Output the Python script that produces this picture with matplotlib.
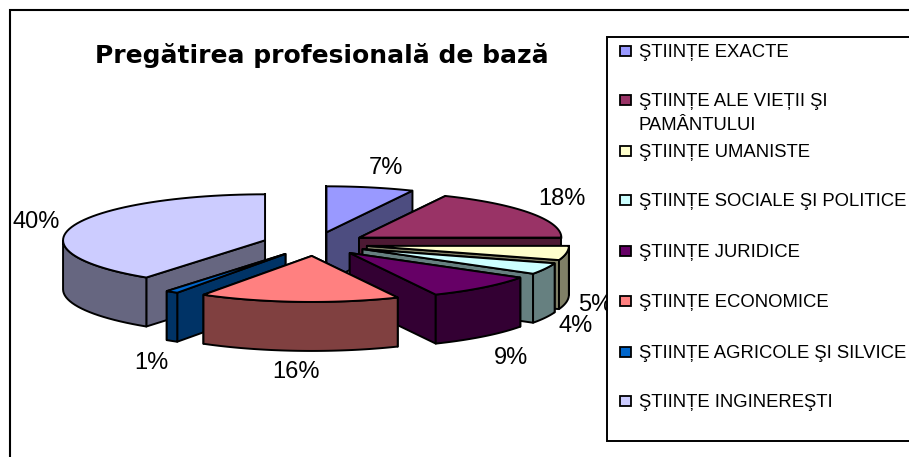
import numpy as np
import matplotlib
matplotlib.use("Agg")
import matplotlib.pyplot as plt
from matplotlib.patches import Rectangle

# chart data, clockwise from the top
categories = ["ŞTIINȚE EXACTE", "ŞTIINȚE ALE VIEȚII ŞI\nPAMÂNTULUI", "ŞTIINȚE UMANISTE",
              "ŞTIINȚE SOCIALE ŞI POLITICE", "ŞTIINȚE JURIDICE", "ŞTIINȚE ECONOMICE",
              "ŞTIINȚE AGRICOLE ŞI SILVICE", "ŞTIINȚE INGINEREŞTI"]
values = [7, 18, 5, 4, 9, 16, 1, 40]
title = "Pregătirea profesională de bază"

top_colors = ["#9999FF", "#993366", "#FFFFCC", "#CCFFFF", "#660066", "#FF8080", "#0066CC", "#CCCCFF"]
wall_colors = ["#4D4D80", "#4D1933", "#808066", "#668080", "#330033", "#804040", "#003366", "#666680"]

# layout in pixels
cx, cy = 315, 244
rx, ry = 202, 46
depth = 49
explode = 0.26
draw_order = [0, 7, 1, 2, 3, 4, 6, 5]
label_pos = [(386, 168), (562, 199), (595, 305), (576, 326), (511, 358), (296, 372), (151, 363), (36, 222)]
legend_y = [51, 100, 151, 200, 251, 301, 352, 401]

plt.rcParams['font.family'] = ['Liberation Sans', 'DejaVu Sans']
fig = plt.figure(figsize=(9.09, 4.57), dpi=100)
ax = fig.add_axes([0, 0, 1, 1])
ax.set_xlim(0, 909)
ax.set_ylim(457, 0)
ax.axis('off')

ax.add_patch(Rectangle((10, 10), 905, 455, fc='white', ec='black', lw=1.5, zorder=0))

pct = np.array(values) / sum(values)
ends = np.cumsum(pct) * 360
starts = ends - pct * 360


def ring(ox, oy, deg):
    t = np.radians(deg)
    return ox + rx * np.sin(t), oy - ry * np.cos(t)


def wall(xs, ys, color, z):
    xs = np.asarray(xs)
    ys = np.asarray(ys)
    px = np.concatenate([xs, xs[::-1]])
    py = np.concatenate([ys, ys[::-1] + depth])
    ax.fill(px, py, fc=color, ec='black', lw=1.4, joinstyle='round', zorder=z)


for rank, i in enumerate(draw_order):
    t1, t2 = starts[i], ends[i]
    mid = np.radians((t1 + t2) / 2)
    ox = cx + explode * rx * np.sin(mid)
    oy = cy - explode * ry * np.cos(mid)
    z = 2 + rank
    arc = np.linspace(t1, t2, 60)
    ax_x, ax_y = ring(ox, oy, arc)

    # back walls first, then the ones facing the viewer
    front = []
    for t in (t1, t2):
        rim_x, rim_y = ring(ox, oy, t)
        is_front = np.sin(np.radians(t)) < 0 if t == t1 else np.sin(np.radians(t)) > 0
        if is_front:
            front.append(([ox, rim_x], [oy, rim_y]))
        else:
            wall([ox, rim_x], [oy, rim_y], wall_colors[i], z)
    for xs, ys in front:
        wall(xs, ys, wall_colors[i], z)
    mask = np.cos(np.radians(arc)) < 0
    if mask.any():
        wall(ax_x[mask], ax_y[mask], wall_colors[i], z)
    ax.fill(np.r_[ox, ax_x], np.r_[oy, ax_y], fc=top_colors[i], ec='black', lw=1.4, zorder=z)

for val, (x, y) in zip(values, label_pos):
    ax.text(x, y, f"{val}%", fontsize=17, ha='center', va='center', zorder=20)

ax.text(322, 55, title, fontsize=18, family='DejaVu Sans', fontweight='bold', ha='center', va='center', zorder=20)

# legend box sits on top of the 5% label
ax.add_patch(Rectangle((607, 37), 320, 404, fc='white', ec='black', lw=1.4, zorder=30))
for name, color, y in zip(categories, top_colors, legend_y):
    ax.add_patch(Rectangle((620, y - 5), 11, 10, fc=color, ec='black', lw=1.3, zorder=31))
    ax.text(639, y - 7, name, fontsize=13.3, ha='left', va='top', linespacing=1.5, zorder=31)

fig.savefig("out.png", dpi=100)
